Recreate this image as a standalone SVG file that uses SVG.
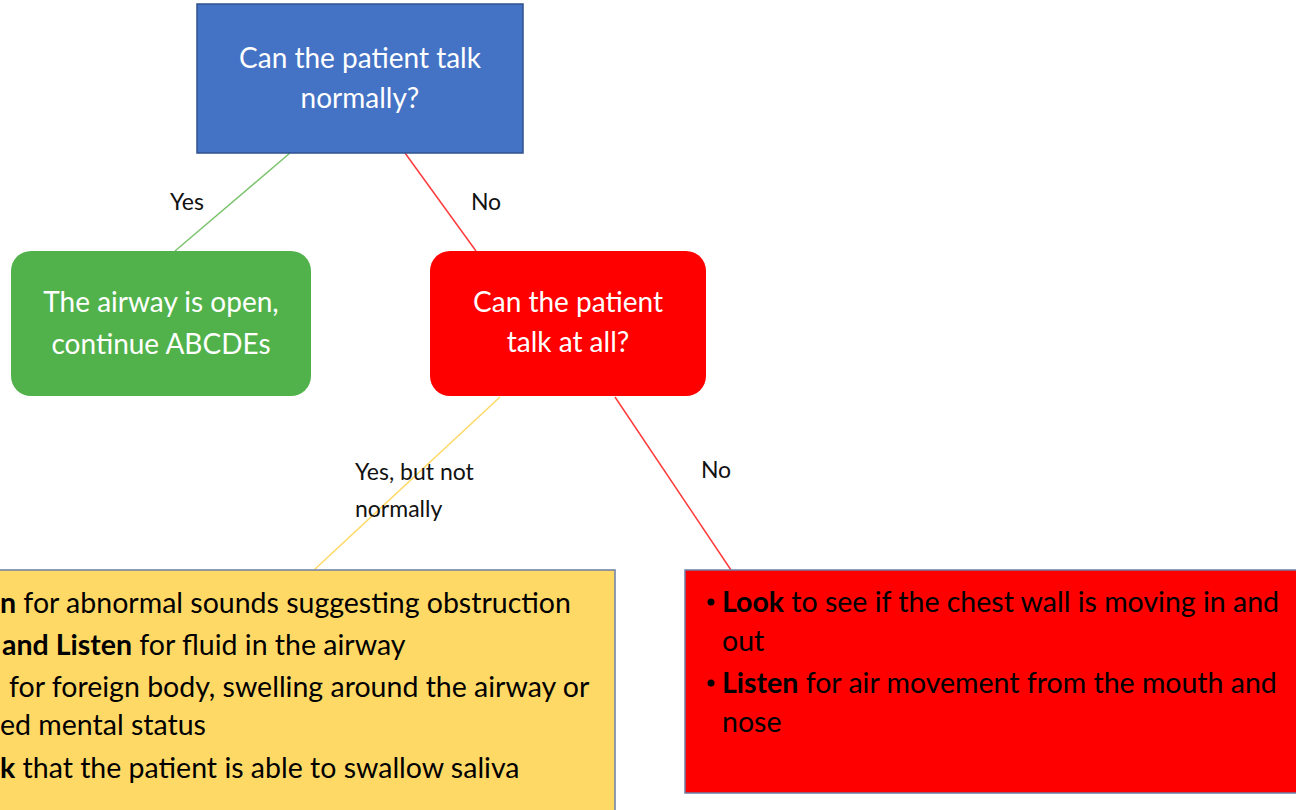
<svg xmlns="http://www.w3.org/2000/svg" width="1296" height="810" viewBox="0 0 1296 810">
<style>
text{font-family:Lato,"Open Sans","Liberation Sans",sans-serif}
.w{fill:#fff;font-size:28px;text-anchor:middle}
.lbl{fill:#111;font-size:23px}
.b{fill:#000;font-size:28.5px}
.bold{font-weight:bold}
.conn{fill:none;stroke-width:1.5}
</style>
<rect width="1296" height="810" fill="#fff"/>
<g id="connectors">
<line class="conn" x1="290" y1="153" x2="175" y2="251" stroke="#7CC36E"/>
<line class="conn" x1="405" y1="153" x2="476" y2="251" stroke="#FF3B3B"/>
<line class="conn" x1="500" y1="397" x2="314" y2="570" stroke="#FFD966"/>
<line class="conn" x1="615" y1="397" x2="731" y2="570" stroke="#FF3B3B"/>
<text class="lbl" x="187" y="210" text-anchor="middle">Yes</text>
<text class="lbl" x="486" y="210" text-anchor="middle">No</text>
<text class="lbl" x="355" y="480">Yes, but not</text>
<text class="lbl" x="355" y="517">normally</text>
<text class="lbl" x="716" y="478" text-anchor="middle">No</text>
</g>
<g id="n1">
<rect x="197" y="4" width="326" height="149" fill="#4472C4" stroke="#2F528F" stroke-width="1.5"/>
<text class="w" x="360" y="68">Can the patient talk</text>
<text class="w" x="360" y="108">normally?</text>
</g>
<g id="n2">
<rect x="11" y="251" width="300" height="145" rx="20" fill="#51B24B"/>
<text class="w" x="161" y="312">The airway is open,</text>
<text class="w" x="161" y="354">continue ABCDEs</text>
</g>
<g id="n3">
<rect x="430" y="251" width="276" height="145" rx="20" fill="#FF0000"/>
<text class="w" x="568" y="312">Can the patient</text>
<text class="w" x="568" y="352">talk at all?</text>
</g>
<g id="n4">
<rect x="-10" y="570" width="625" height="250" fill="#FFD966" stroke="#6C7FA8" stroke-width="1.5"/>
<text class="b" x="0" y="613"><tspan class="bold">n</tspan> for abnormal sounds suggesting obstruction</text>
<text class="b" x="2" y="655"><tspan class="bold">and Listen</tspan> for fluid in the airway</text>
<text class="b" x="9" y="697">for foreign body, swelling around the airway or</text>
<text class="b" x="0" y="735">ed mental status</text>
<text class="b" x="0" y="778"><tspan class="bold">k</tspan> that the patient is able to swallow saliva</text>
</g>
<g id="n5">
<rect x="685" y="570" width="625" height="223" fill="#FF0000" stroke="#6C7FA8" stroke-width="1.5"/>
<circle cx="711" cy="602" r="3.5" fill="#000"/>
<text class="b" x="722" y="612"><tspan class="bold">Look</tspan> to see if the chest wall is moving in and</text>
<text class="b" x="722" y="651">out</text>
<circle cx="711" cy="683" r="3.5" fill="#000"/>
<text class="b" x="722" y="693"><tspan class="bold">Listen</tspan> for air movement from the mouth and</text>
<text class="b" x="722" y="732">nose</text>
</g>
</svg>
